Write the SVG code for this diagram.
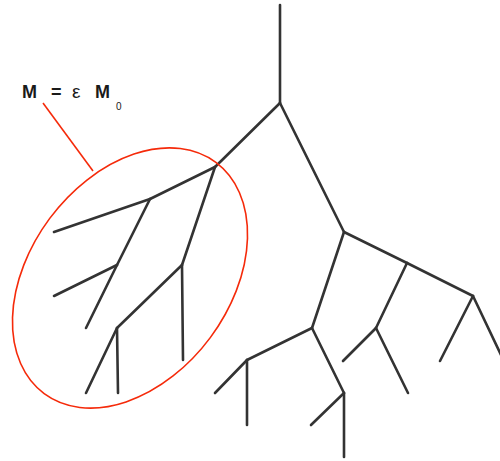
<svg xmlns="http://www.w3.org/2000/svg" width="500" height="461" viewBox="0 0 500 461">
<style>
.br{stroke:#333;stroke-width:2.6;stroke-linecap:round;fill:none}
.red{stroke:#f52a0a;stroke-width:1.6;fill:none}
.lbl{font-family:"Liberation Sans",Arial,sans-serif;fill:#1a1a1a}
</style>
<rect width="500" height="461" fill="#fff"/>
<g id="connectors" class="br">
<line x1="280" y1="5" x2="280" y2="103"/>
<line x1="280" y1="103" x2="215" y2="167"/>
<line x1="280" y1="103" x2="344" y2="232"/>
<line x1="344" y1="232" x2="407" y2="263"/>
<line x1="407" y1="263" x2="473" y2="296"/>
<line x1="473" y1="296" x2="501" y2="355"/>
<line x1="473" y1="296" x2="440" y2="361"/>
<line x1="407" y1="263" x2="376" y2="328"/>
<line x1="376" y1="328" x2="343" y2="361"/>
<line x1="376" y1="328" x2="408" y2="393"/>
<line x1="344" y1="232" x2="312" y2="328"/>
<line x1="312" y1="328" x2="247" y2="360"/>
<line x1="247" y1="360" x2="215" y2="393"/>
<line x1="247" y1="360" x2="247" y2="425"/>
<line x1="312" y1="328" x2="344" y2="393"/>
<line x1="344" y1="393" x2="311" y2="425"/>
<line x1="344" y1="393" x2="344" y2="457"/>
<line x1="215" y1="167" x2="150" y2="199"/>
<line x1="150" y1="199" x2="54" y2="232"/>
<line x1="150" y1="199" x2="117" y2="265"/>
<line x1="117" y1="265" x2="54" y2="296"/>
<line x1="117" y1="265" x2="86" y2="328"/>
<line x1="215" y1="167" x2="182" y2="265"/>
<line x1="182" y1="265" x2="183" y2="360"/>
<line x1="182" y1="265" x2="117" y2="328"/>
<line x1="117" y1="328" x2="86" y2="393"/>
<line x1="117" y1="328" x2="118" y2="393"/>
</g>
<g id="subtree-highlight">
<ellipse class="red" cx="130" cy="278" rx="100" ry="144" transform="rotate(36.6 130 278)"/>
<line class="red" x1="43" y1="103" x2="93" y2="171"/>
</g>
<g id="label">
<text class="lbl" font-size="18" font-weight="bold" y="98"><tspan x="22">M</tspan><tspan x="51">=</tspan><tspan x="72" font-weight="normal" font-size="19">ε</tspan><tspan x="95">M</tspan></text>
<text class="lbl" font-size="10" x="116" y="110">0</text>
</g>
</svg>
